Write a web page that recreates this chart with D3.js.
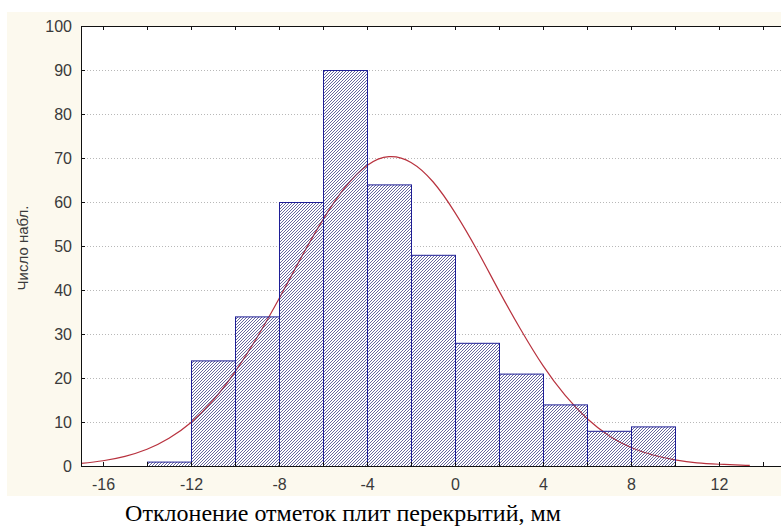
<!DOCTYPE html>
<html>
<head>
<meta charset="utf-8">
<script src="https://cdn.jsdelivr.net/npm/d3@7"></script>
<style>
  html, body { margin: 0; padding: 0; background: #fff; }
  svg { display: block; }
</style>
</head>
<body>
<svg id="chart" width="781" height="529"></svg>
<script>
// histogram bins (lower edge, width 2) and counts
const binStarts = [-14, -12, -10, -8, -6, -4, -2, 0, 2, 4, 6, 8];
const binCounts = [1, 24, 34, 60, 90, 64, 48, 28, 21, 14, 8, 9];
const binWidth = 2;

// fitted normal curve
const curveX = [-17, -16, -15, -14, -13, -12, -11, -10, -9, -8, -7, -6, -5, -4, -3, -2, -1, 0, 1, 2, 3, 4, 5, 6, 7, 8, 9, 10, 11, 12, 13, 13.4];
const curveY = [0.6, 1.2, 2.2, 3.8, 6.3, 9.9, 14.9, 21.4, 29.2, 38.0, 47.3, 56.0, 63.3, 68.3, 70.3, 69.0, 64.6, 57.6, 49.1, 39.8, 30.9, 22.8, 16.1, 10.8, 6.9, 4.2, 2.5, 1.4, 0.7, 0.4, 0.2, 0.15];

const xTicks = [-16, -14, -12, -10, -8, -6, -4, -2, 0, 2, 4, 6, 8, 10, 12, 14];
const xLabels = [-16, -12, -8, -4, 0, 4, 8, 12];
const yTicks = [0, 10, 20, 30, 40, 50, 60, 70, 80, 90, 100];

const svg = d3.select('#chart');
const W = 781, H = 529;
const m = { left: 81, top: 26, right: 785, bottom: 466 };

const x = d3.scaleLinear().domain([-17, 15]).range([m.left, m.right]);
const y = d3.scaleLinear().domain([0, 100]).range([m.bottom, m.top]);

// hatch pattern
const defs = svg.append('defs');
const pat = defs.append('pattern').attr('id', 'hatch')
  .attr('patternUnits', 'userSpaceOnUse').attr('width', 3).attr('height', 3);
pat.append('path').attr('d', 'M-1,1 L1,-1 M0,3 L3,0 M2,4 L4,2')
  .attr('stroke', '#34347e').attr('stroke-width', 0.75).attr('fill', 'none');

defs.append('clipPath').attr('id', 'plotClip').append('rect')
  .attr('x', m.left).attr('y', m.top).attr('width', m.right - m.left).attr('height', m.bottom - m.top);

// cream panel
svg.append('rect').attr('x', 7).attr('y', 12).attr('width', W - 7).attr('height', 484).attr('fill', '#fcf9ee');
svg.append('rect').attr('x', m.left).attr('y', m.top).attr('width', m.right - m.left).attr('height', m.bottom - m.top).attr('fill', '#fff');

const plot = svg.append('g').attr('clip-path', 'url(#plotClip)');

// dotted grid
plot.append('g').selectAll('line').data(yTicks.filter(d => d > 0 && d < 100)).enter().append('line')
  .attr('x1', m.left).attr('x2', m.right)
  .attr('y1', d => y(d) + 0.5).attr('y2', d => y(d) + 0.5)
  .attr('stroke', '#b8b8b8').attr('stroke-width', 1).attr('stroke-dasharray', '1,2');

const bins = binStarts.map((s, i) => ({ x0: s, x1: s + binWidth, n: binCounts[i] }));

// white bar bodies
plot.append('g').selectAll('rect').data(bins).enter().append('rect')
  .attr('x', d => x(d.x0)).attr('width', d => x(d.x1) - x(d.x0))
  .attr('y', d => y(d.n)).attr('height', d => y(0) - y(d.n))
  .attr('fill', '#fff');

// normal curve
const line = d3.line().x((d, i) => x(curveX[i])).y(d => y(d)).curve(d3.curveNatural);
plot.append('path').datum(curveY).attr('d', line)
  .attr('fill', 'none').attr('stroke', '#b8323e').attr('stroke-width', 1.2);

// hatched bars on top
plot.append('g').selectAll('rect').data(bins).enter().append('rect')
  .attr('x', d => x(d.x0) + 0.5).attr('width', d => x(d.x1) - x(d.x0))
  .attr('y', d => y(d.n) + 0.5).attr('height', d => y(0) - y(d.n))
  .attr('fill', 'url(#hatch)').attr('stroke', '#1e1e96').attr('stroke-width', 1);

// axes
const fontSans = 'Liberation Sans, Arial, sans-serif';

const xAxis = svg.append('g').attr('transform', `translate(0,${m.bottom})`)
  .call(d3.axisBottom(x).tickValues(xTicks).tickSize(-4).tickPadding(13)
    .tickFormat(d => xLabels.includes(d) ? d : ''));
const yAxis = svg.append('g').attr('transform', `translate(${m.left},0)`)
  .call(d3.axisLeft(y).tickValues(yTicks).tickSize(-4).tickPadding(9));
const topAxis = svg.append('g').attr('transform', `translate(0,${m.top})`)
  .call(d3.axisTop(x).tickValues(xTicks).tickSize(-4).tickFormat(''));

[xAxis, yAxis, topAxis].forEach(g => {
  g.attr('font-size', null).attr('font-family', null);
  g.select('.domain').attr('stroke', '#111');
  g.selectAll('.tick line').attr('stroke', '#111');
  g.selectAll('text').attr('font-family', fontSans).attr('font-size', '16px').attr('fill', '#3a3a3a');
});

// y title
svg.append('text')
  .attr('transform', 'translate(28,248) rotate(-90)')
  .attr('text-anchor', 'middle')
  .attr('font-family', fontSans).attr('font-size', '15px').attr('fill', '#3a3a3a')
  .text('Число набл.');

// x title
svg.append('text')
  .attr('x', 343).attr('y', 521)
  .attr('text-anchor', 'middle')
  .attr('font-family', 'Liberation Serif, Times New Roman, serif').attr('font-size', '24px').attr('fill', '#000')
  .text('Отклонение отметок плит перекрытий, мм');
</script>
</body>
</html>
